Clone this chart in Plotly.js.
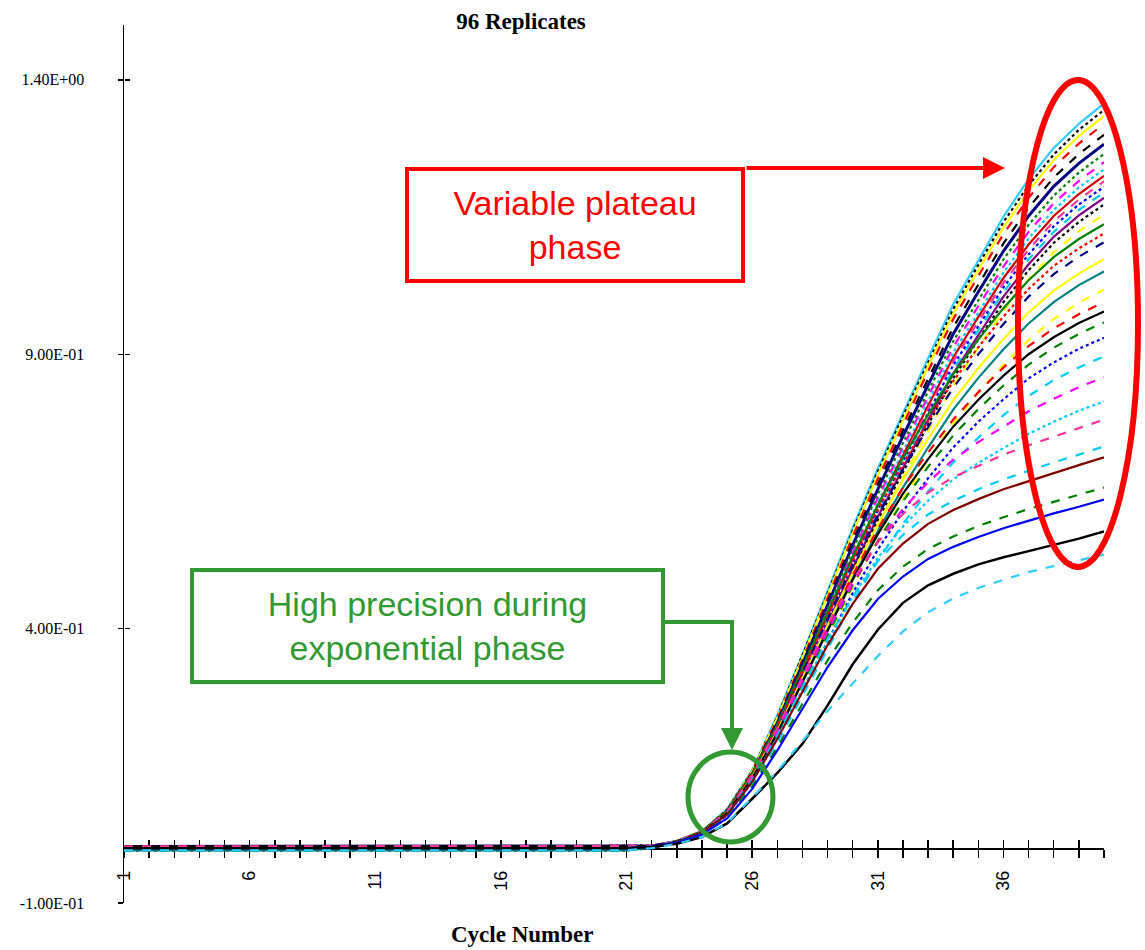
<!DOCTYPE html>
<html>
<head>
<meta charset="utf-8">
<script src="https://cdn.plot.ly/plotly-3.0.1.min.js"></script>
<style>html,body{margin:0;padding:0;background:#fff;}#chart{width:1145px;height:950px;}</style>
</head>
<body>
<div id="chart"></div>
<script>
// Cycle numbers (x categories)
const cycles = [1,2,3,4,5,6,7,8,9,10,11,12,13,14,15,16,17,18,19,20,21,22,23,24,25,26,27,28,29,30,31,32,33,34,35,36,37,38,39,40];
const xTickText = ['1','','','','','6','','','','','11','','','','','16','','','','','21','','','','','26','','','','','31','','','','','36','','','',''];
const yTickVals = [-0.1, 0.4, 0.9, 1.4];
const yTickText = ['-1.00E-01','4.00E-01','9.00E-01','1.40E+00'];

// Fluorescence readings per replicate, cycles 1..40
const rep01 = [0,0,0,0,0,0,0,0,0,0,0,0,0,0,0,0,0,0,0,0,0, 0.003,0.012,0.030,0.071,0.142,0.242,0.353,0.468,0.584,0.692,0.794,0.893,0.991,1.072,1.151,1.219,1.276,1.320,1.357];
const rep02 = [0.003,0.003,0.003,0.003,0.003,0.003,0.003,0.003,0.003,0.003,0.003,0.003,0.003,0.003,0.003,0.003,0.003,0.003,0.003,0.003,0.003, 0.004,0.012,0.030,0.070,0.141,0.239,0.350,0.464,0.578,0.686,0.787,0.885,0.982,1.063,1.141,1.208,1.264,1.309,1.345];
const rep03 = [0,0,0,0,0,0,0,0,0,0,0,0,0,0,0,0,0,0,0,0,0, 0.003,0.012,0.029,0.069,0.140,0.237,0.347,0.460,0.574,0.680,0.780,0.878,0.974,1.054,1.131,1.198,1.254,1.298,1.334];
const rep04 = [-0.004,-0.004,-0.004,-0.004,-0.004,-0.004,-0.004,-0.004,-0.004,-0.004,-0.004,-0.004,-0.004,-0.004,-0.004,-0.004,-0.004,-0.004,-0.004,-0.004,-0.004, 0.001,0.012,0.029,0.069,0.139,0.235,0.343,0.455,0.568,0.673,0.772,0.869,0.964,1.043,1.119,1.185,1.241,1.284,1.320];
const rep05 = [0,0,0,0,0,0,0,0,0,0,0,0,0,0,0,0,0,0,0,0,0, 0.003,0.012,0.029,0.068,0.137,0.231,0.338,0.449,0.559,0.663,0.761,0.855,0.949,1.027,1.102,1.167,1.222,1.265,1.300];
const rep06 = [0.003,0.003,0.003,0.003,0.003,0.003,0.003,0.003,0.003,0.003,0.003,0.003,0.003,0.003,0.003,0.003,0.003,0.003,0.003,0.003,0.003, 0.004,0.012,0.028,0.067,0.135,0.228,0.334,0.443,0.552,0.654,0.751,0.844,0.937,1.014,1.088,1.152,1.206,1.248,1.283];
const rep07 = [0,0,0,0,0,0,0,0,0,0,0,0,0,0,0,0,0,0,0,0,0, 0.003,0.011,0.028,0.066,0.133,0.225,0.329,0.436,0.544,0.645,0.740,0.832,0.924,0.999,1.073,1.136,1.189,1.231,1.265];
const rep08 = [0,0,0,0,0,0,0,0,0,0,0,0,0,0,0,0,0,0,0,0,0, 0.003,0.011,0.028,0.065,0.131,0.223,0.325,0.431,0.538,0.638,0.731,0.823,0.913,0.988,1.060,1.123,1.175,1.216,1.250];
const rep09 = [-0.004,-0.004,-0.004,-0.004,-0.004,-0.004,-0.004,-0.004,-0.004,-0.004,-0.004,-0.004,-0.004,-0.004,-0.004,-0.004,-0.004,-0.004,-0.004,-0.004,-0.004, 0.000,0.011,0.027,0.064,0.130,0.220,0.322,0.427,0.532,0.631,0.724,0.814,0.903,0.977,1.049,1.111,1.163,1.204,1.237];
const rep10 = [0,0,0,0,0,0,0,0,0,0,0,0,0,0,0,0,0,0,0,0,0, 0.002,0.011,0.027,0.064,0.129,0.218,0.319,0.423,0.527,0.625,0.717,0.806,0.894,0.968,1.039,1.100,1.152,1.192,1.225];
const rep11 = [0,0,0,0,0,0,0,0,0,0,0,0,0,0,0,0,0,0,0,0,0, 0.002,0.011,0.027,0.063,0.128,0.216,0.316,0.419,0.523,0.620,0.711,0.800,0.887,0.960,1.030,1.091,1.142,1.182,1.215];
const rep12 = [0.003,0.003,0.003,0.003,0.003,0.003,0.003,0.003,0.003,0.003,0.003,0.003,0.003,0.003,0.003,0.003,0.003,0.003,0.003,0.003,0.003, 0.004,0.011,0.027,0.063,0.127,0.215,0.313,0.416,0.518,0.615,0.705,0.793,0.880,0.952,1.022,1.082,1.133,1.173,1.205];
const rep13 = [0,0,0,0,0,0,0,0,0,0,0,0,0,0,0,0,0,0,0,0,0, 0.002,0.011,0.026,0.062,0.126,0.213,0.311,0.412,0.514,0.610,0.699,0.786,0.872,0.944,1.013,1.073,1.123,1.163,1.195];
const rep14 = [0,0,0,0,0,0,0,0,0,0,0,0,0,0,0,0,0,0,0,0,0, 0.002,0.011,0.026,0.062,0.124,0.211,0.308,0.409,0.510,0.604,0.693,0.780,0.865,0.936,1.005,1.064,1.114,1.153,1.185];
const rep15 = [-0.004,-0.004,-0.004,-0.004,-0.004,-0.004,-0.004,-0.004,-0.004,-0.004,-0.004,-0.004,-0.004,-0.004,-0.004,-0.004,-0.004,-0.004,-0.004,-0.004,-0.004, 0.000,0.011,0.026,0.061,0.123,0.209,0.305,0.405,0.504,0.598,0.686,0.772,0.856,0.927,0.995,1.053,1.103,1.141,1.173];
const rep16 = [0,0,0,0,0,0,0,0,0,0,0,0,0,0,0,0,0,0,0,0,0, 0.002,0.010,0.025,0.060,0.121,0.206,0.300,0.399,0.497,0.589,0.676,0.760,0.843,0.913,0.979,1.037,1.086,1.124,1.155];
const rep17 = [0,0,0,0,0,0,0,0,0,0,0,0,0,0,0,0,0,0,0,0,0, 0.003,0.013,0.031,0.068,0.136,0.225,0.328,0.430,0.532,0.625,0.711,0.790,0.864,0.927,0.984,1.035,1.077,1.110,1.137];
const rep18 = [0.003,0.003,0.003,0.003,0.003,0.003,0.003,0.003,0.003,0.003,0.003,0.003,0.003,0.003,0.003,0.003,0.003,0.003,0.003,0.003,0.003, 0.004,0.012,0.030,0.067,0.134,0.222,0.323,0.423,0.524,0.616,0.700,0.778,0.851,0.913,0.969,1.019,1.061,1.093,1.120];
const rep19 = [0,0,0,0,0,0,0,0,0,0,0,0,0,0,0,0,0,0,0,0,0, 0.003,0.012,0.030,0.066,0.132,0.219,0.318,0.417,0.517,0.607,0.690,0.767,0.839,0.900,0.955,1.005,1.046,1.078,1.104];
const rep20 = [0,0,0,0,0,0,0,0,0,0,0,0,0,0,0,0,0,0,0,0,0, 0.003,0.012,0.029,0.064,0.129,0.213,0.309,0.406,0.502,0.590,0.671,0.746,0.816,0.875,0.928,0.976,1.016,1.047,1.073];
const rep21 = [-0.004,-0.004,-0.004,-0.004,-0.004,-0.004,-0.004,-0.004,-0.004,-0.004,-0.004,-0.004,-0.004,-0.004,-0.004,-0.004,-0.004,-0.004,-0.004,-0.004,-0.004, 0.001,0.012,0.028,0.063,0.126,0.208,0.303,0.397,0.492,0.578,0.657,0.730,0.799,0.857,0.909,0.956,0.995,1.026,1.051];
const rep22 = [0,0,0,0,0,0,0,0,0,0,0,0,0,0,0,0,0,0,0,0,0, 0.003,0.011,0.027,0.061,0.122,0.202,0.293,0.385,0.476,0.560,0.636,0.708,0.774,0.830,0.881,0.926,0.964,0.994,1.018];
const rep23 = [0,0,0,0,0,0,0,0,0,0,0,0,0,0,0,0,0,0,0,0,0, 0.003,0.012,0.030,0.065,0.129,0.214,0.308,0.403,0.498,0.582,0.657,0.721,0.781,0.831,0.876,0.915,0.947,0.973,0.995];
const rep24 = [0.003,0.003,0.003,0.003,0.003,0.003,0.003,0.003,0.003,0.003,0.003,0.003,0.003,0.003,0.003,0.003,0.003,0.003,0.003,0.003,0.003, 0.004,0.012,0.029,0.064,0.127,0.210,0.303,0.396,0.489,0.572,0.646,0.709,0.768,0.817,0.861,0.900,0.931,0.957,0.978];
const rep25 = [0,0,0,0,0,0,0,0,0,0,0,0,0,0,0,0,0,0,0,0,0, 0.003,0.011,0.029,0.062,0.125,0.206,0.297,0.388,0.479,0.560,0.632,0.695,0.752,0.800,0.843,0.881,0.912,0.937,0.958];
const rep26 = [0,0,0,0,0,0,0,0,0,0,0,0,0,0,0,0,0,0,0,0,0, 0.003,0.011,0.028,0.060,0.121,0.200,0.288,0.377,0.465,0.544,0.614,0.674,0.730,0.777,0.818,0.856,0.885,0.910,0.930];
const rep27 = [-0.004,-0.004,-0.004,-0.004,-0.004,-0.004,-0.004,-0.004,-0.004,-0.004,-0.004,-0.004,-0.004,-0.004,-0.004,-0.004,-0.004,-0.004,-0.004,-0.004,-0.004, 0.001,0.011,0.027,0.058,0.117,0.193,0.278,0.363,0.448,0.524,0.591,0.650,0.703,0.748,0.789,0.824,0.853,0.876,0.896];
const rep28 = [0,0,0,0,0,0,0,0,0,0,0,0,0,0,0,0,0,0,0,0,0, 0.003,0.012,0.030,0.064,0.129,0.213,0.305,0.396,0.482,0.558,0.618,0.667,0.708,0.740,0.768,0.796,0.819,0.840,0.858];
const rep29 = [0,0,0,0,0,0,0,0,0,0,0,0,0,0,0,0,0,0,0,0,0, 0.002,0.011,0.029,0.061,0.122,0.202,0.289,0.376,0.458,0.529,0.586,0.633,0.672,0.702,0.729,0.755,0.777,0.797,0.814];
const rep30 = [0.003,0.003,0.003,0.003,0.003,0.003,0.003,0.003,0.003,0.003,0.003,0.003,0.003,0.003,0.003,0.003,0.003,0.003,0.003,0.003,0.003, 0.004,0.013,0.031,0.066,0.133,0.219,0.312,0.406,0.488,0.558,0.609,0.648,0.676,0.697,0.717,0.734,0.750,0.765,0.781];
const rep31 = [0,0,0,0,0,0,0,0,0,0,0,0,0,0,0,0,0,0,0,0,0, 0.003,0.012,0.029,0.062,0.124,0.205,0.293,0.381,0.458,0.523,0.571,0.608,0.633,0.654,0.672,0.688,0.703,0.717,0.732];
const rep32 = [0,0,0,0,0,0,0,0,0,0,0,0,0,0,0,0,0,0,0,0,0, 0.003,0.011,0.029,0.061,0.121,0.199,0.285,0.370,0.445,0.509,0.555,0.591,0.616,0.636,0.654,0.669,0.684,0.698,0.712];
const rep33 = [-0.004,-0.004,-0.004,-0.004,-0.004,-0.004,-0.004,-0.004,-0.004,-0.004,-0.004,-0.004,-0.004,-0.004,-0.004,-0.004,-0.004,-0.004,-0.004,-0.004,-0.004, 0.001,0.011,0.026,0.056,0.112,0.184,0.263,0.342,0.411,0.470,0.513,0.545,0.568,0.587,0.603,0.618,0.631,0.644,0.657];
const rep34 = [0,0,0,0,0,0,0,0,0,0,0,0,0,0,0,0,0,0,0,0,0, 0.003,0.010,0.025,0.054,0.108,0.178,0.254,0.330,0.397,0.454,0.495,0.527,0.549,0.567,0.583,0.597,0.610,0.622,0.635];
const rep35 = [0,0,0,0,0,0,0,0,0,0,0,0,0,0,0,0,0,0,0,0,0, 0.002,0.008,0.020,0.045,0.090,0.137,0.190,0.260,0.335,0.398,0.447,0.479,0.500,0.517,0.530,0.541,0.552,0.564,0.577];
const rep36 = [-0.004,-0.004,-0.004,-0.004,-0.004,-0.004,-0.004,-0.004,-0.004,-0.004,-0.004,-0.004,-0.004,-0.004,-0.004,-0.004,-0.004,-0.004,-0.004,-0.004,-0.004, 0.000,0.008,0.020,0.046,0.092,0.140,0.195,0.250,0.300,0.350,0.395,0.430,0.455,0.474,0.489,0.503,0.514,0.525,0.535];

const replicates = [rep01,rep02,rep03,rep04,rep05,rep06,rep07,rep08,rep09,rep10,rep11,rep12,
  rep13,rep14,rep15,rep16,rep17,rep18,rep19,rep20,rep21,rep22,rep23,rep24,
  rep25,rep26,rep27,rep28,rep29,rep30,rep31,rep32,rep33,rep34,rep35,rep36];

// Styles
const lineColors = ['#33CCFF','#000000','#FFFF00','#FF0000','#000000','#000080','#008000','#FF00FF','#00CCFF','#CC0000','#FF3399','#0000FF',
  '#00CCFF','#800080','#000000','#FFFF00','#008000','#FF0000','#000080','#FFFF00','#008080','#FFFF00','#FF0000','#000000',
  '#008000','#0000FF','#00CCFF','#FF00FF','#00CCFF','#FF3399','#00CCFF','#800000','#008000','#0000FF','#000000','#33CCFF'];
const lineDashes = ['solid','dot','solid','dash','dash','solid','dot','dash','dot','solid','dash','dot',
  'dash','solid','dot','dash','solid','dot','dash','solid','solid','dash','dash','solid',
  'dash','dot','dash','dash','dot','dash','dash','solid','dash','solid','solid','dash'];
const lineWidths = [2.2,2.2,2.2,2.2,2.2,3,2.2,2.2,2.2,2.2,2.2,2.2, 2.2,2.2,2.2,2.2,2.2,2.2,2.2,2.2,2.2,2.2,2.2,2.2, 2.2,2.2,2.2,2.2,2.2,2.2,2.2,2.2,2.2,2.2,2.5,2.2];

// The last replicate is drawn on the overlaying axes so that their crossing tick marks are rendered
const traces = replicates.map((vals, i) => ({
  type: 'scatter', mode: 'lines', x: cycles, y: vals,
  xaxis: i === replicates.length - 1 ? 'x2' : 'x',
  yaxis: i === replicates.length - 1 ? 'y2' : 'y',
  line: {color: lineColors[i], dash: lineDashes[i], width: lineWidths[i]},
  hoverinfo: 'skip', showlegend: false
}));

const green = '#339933';
const layout = {
  width: 1145, height: 950,
  margin: {l: 124, r: 41, t: 25, b: 47},
  paper_bgcolor: '#ffffff', plot_bgcolor: '#ffffff',
  showlegend: false,
  title: {text: '96 Replicates', x: 0.455, xanchor: 'center', y: 0.978, yanchor: 'middle',
    font: {family: 'Liberation Serif', size: 23, color: '#000', weight: 'bold'}},
  xaxis: {range: [1, 40], anchor: 'free', position: 0.0625, showline: true, linecolor: '#000', linewidth: 1.5,
    showgrid: false, zeroline: false, tickmode: 'array', tickvals: cycles, ticktext: xTickText,
    ticks: 'outside', ticklen: 8, tickwidth: 1.5, tickcolor: '#000', tickangle: -90,
    tickfont: {family: 'Liberation Sans', size: 18, color: '#000'}, ticklabelstandoff: 6, layer: 'below traces'},
  xaxis2: {overlaying: 'x', range: [1, 40], anchor: 'free', position: 0.0625, showline: false,
    showgrid: false, zeroline: false, tickmode: 'array', tickvals: cycles, showticklabels: false,
    ticks: 'inside', ticklen: 8, tickwidth: 1.5, tickcolor: '#000', layer: 'below traces'},
  yaxis: {range: [-0.1, 1.5], showline: true, linecolor: '#000', linewidth: 1.5, showgrid: false, zeroline: false,
    tickmode: 'array', tickvals: yTickVals, ticktext: yTickText, ticks: 'outside', ticklen: 5, tickwidth: 1.5,
    tickcolor: '#000', tickfont: {family: 'Liberation Serif', size: 16, color: '#000'}, ticklabelstandoff: 30},
  yaxis2: {overlaying: 'y', range: [-0.1, 1.5], anchor: 'free', position: 0, side: 'left', showline: false,
    showgrid: false, zeroline: false, tickmode: 'array', tickvals: yTickVals, showticklabels: false,
    ticks: 'inside', ticklen: 5, tickwidth: 1.5, tickcolor: '#000'},
  annotations: [
    {xref: 'paper', yref: 'paper', x: 0.4061, y: -0.0364, xanchor: 'center', yanchor: 'middle', showarrow: false,
      text: 'Cycle Number', font: {family: 'Liberation Serif', size: 23, color: '#000', weight: 'bold'}},
    {xref: 'paper', yref: 'paper', x: 0.4602, y: 0.7722, xanchor: 'center', yanchor: 'middle', showarrow: false,
      text: 'Variable plateau<br>phase', font: {family: 'Liberation Sans', size: 34, color: '#FF0000'},
      bordercolor: '#FF0000', borderwidth: 4, borderpad: 0, width: 332, height: 108, align: 'center'},
    {xref: 'paper', yref: 'paper', x: 0.3097, y: 0.3155, xanchor: 'center', yanchor: 'middle', showarrow: false,
      text: 'High precision during<br>exponential phase', font: {family: 'Liberation Sans', size: 34, color: green},
      bordercolor: green, borderwidth: 4, borderpad: 0, width: 467, height: 108, align: 'center'},
    {xref: 'paper', yref: 'paper', x: 0.899, y: 0.8371, ax: -260, ay: 0, text: '', showarrow: true,
      arrowcolor: '#FF0000', arrowwidth: 4, arrowhead: 2, arrowsize: 1.1, standoff: 0},
    {xref: 'paper', yref: 'paper', x: 0.6204, y: 0.1743, ax: 0, ay: -130, text: '', showarrow: true,
      arrowcolor: green, arrowwidth: 4, arrowhead: 2, arrowsize: 1.1, standoff: 0}
  ],
  shapes: [
    {type: 'line', xref: 'paper', yref: 'paper', x0: 0.552, x1: 0.6224, y0: 0.32, y1: 0.32,
      line: {color: green, width: 4}},
    {type: 'circle', xref: 'paper', yref: 'paper', x0: 0.5755, x1: 0.6622, y0: 0.0695, y1: 0.172,
      line: {color: green, width: 5}, layer: 'above'},
    {type: 'circle', xref: 'paper', yref: 'paper', x0: 0.9122, x1: 1.0347, y0: 0.3827, y1: 0.9374,
      line: {color: '#FF0000', width: 6}, layer: 'above'}
  ]
};

Plotly.newPlot('chart', traces, layout, {displayModeBar: false, staticPlot: true});
</script>
</body>
</html>
